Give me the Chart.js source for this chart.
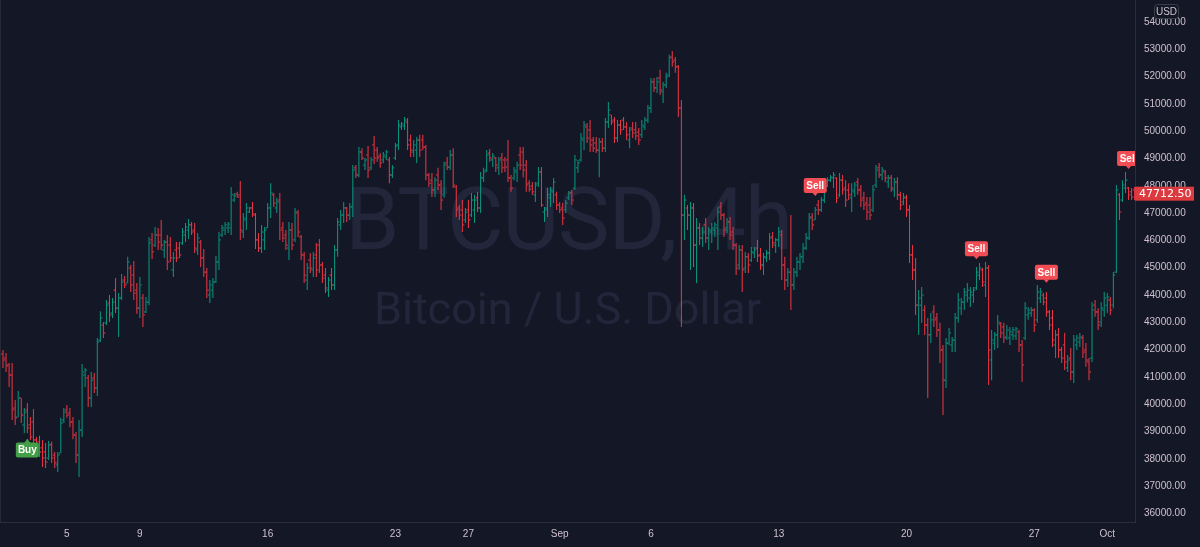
<!DOCTYPE html>
<html><head><meta charset="utf-8">
<script src="https://cdn.jsdelivr.net/npm/chart.js@4.4.1/dist/chart.umd.min.js"></script>
<style>html,body{margin:0;padding:0;background:#141826;overflow:hidden}#wrap{width:1200px;height:547px}</style>
</head><body><div id="wrap"><canvas id="c" width="1200" height="547"></canvas></div>
<script>
// ---- DATA (BTCUSD 4h bars) ----
const openP=[
41840,41690,41440,41070,39860,39530,40230,39240,39790,39240,39350,38690,38620,38400,38250,38030,38510,38140,37770,38210,
39420,39790,39680,39350,38870,38140,39050,41070,40960,40230,40960,40590,42350,42900,42980,43710,43340,44180,43520,43890,
44550,44440,44990,44730,44180,43520,43890,43380,43740,46020,45830,46200,46200,45650,45940,45830,44920,45650,45720,45910,
46200,46380,46570,46380,45650,45940,45360,44840,44000,44180,44480,45210,46200,46380,46460,46460,47480,47700,47670,46310,
46750,47040,47190,46930,46020,45720,46020,46460,47190,47670,47190,47480,46460,46200,45720,
46380,46020,47010,46130,45470,44550,45280,44920,45470,45830,45100,44730,44180,44730,44370,45650,46570,46930,47190,46930,
47230,48660,48400,49240,48760,49130,48660,49500,49310,49090,48950,49060,48950,48400,49020,49500,50160,50190,50340,49680,
49240,49310,49680,49680,49420,48400,48210,47850,48400,48030,47670,48840,48690,49130,47960,47190,47120,46750,47120,46930,
47120,47560,47190,48290,48580,49200,48950,49020,48660,49020,48950,48950,48290,48290,48510,49130,49240,48760,48100,47990,
47670,48100,48510,47040,47120,47560,47780,47670,47300,47190,47120,47560,47740,47920,48660,
48950,49680,50160,50050,49680,49570,49310,49610,49380,50340,50600,50410,49750,50230,50410,50160,49680,50120,50050,49970,
49870,50160,50410,50850,51810,51590,51950,51440,51700,52060,52720,52610,52360,50850,46930,47190,46930,47190,45830,46460,
46090,46570,46090,46310,46380,46460,47230,46930,46460,46680,46310,45830,45100,45650,44990,45400,45280,45540,45720,45470,
45100,45360,45540,46130,45830,46020,46200,45100,44550,44840,44370,44840,45210,45400,45720,46090,46860,46750,47300,47120,
47480,47990,48210,48290,48290,47670,48210,47920,47850,47560,47780,48140,
47850,47560,47370,47300,47120,48030,48660,48400,48510,48140,48290,47850,48140,47670,47410,47560,47120,45470,44920,43630,
43630,43450,42900,42540,43380,43160,42720,41990,40880,42240,42170,42350,43160,43520,43740,44000,43890,44000,44260,44730,
44920,44370,44990,41620,42240,42540,42940,42830,42460,42430,42540,42500,42650,42170,42430,43270,43340,43450,43090,43890,
44000,43890,43380,43160,42170,42540,41990,42170,41330,41690,41180,42170,42280,42430,41990,41550,41690,43630,43380,43010,
43450,43630,43820,43630,44840,47670,47480,47920,47920,47780,47850];
const highP=[
41990,41880,41510,41510,40150,40480,40230,39860,40040,39530,39820,38800,38840,38690,38580,38650,38620,38250,38250,39500,
39860,39970,39860,39530,38980,39420,41470,41330,41070,41180,41140,42430,43410,43010,43820,44000,43890,44620,44070,44770,
44700,45400,45100,45250,44440,44660,44040,43930,46130,46270,46490,46460,46750,46020,46200,46130,45580,45940,45940,46460,
46640,46790,46680,46640,46270,46020,45690,44990,44550,44620,45430,46310,46570,46680,46680,47960,47740,47780,48180,47010,
47370,47230,47410,47010,46270,46570,46490,47370,48100,47740,47560,47740,46680,46380,46680,
46640,47190,47120,46200,45580,45170,45540,45580,45910,46050,45210,44990,44660,44990,45830,46820,47120,47410,47230,47370,
48760,48760,49420,49380,49020,49460,49060,49830,49420,49200,49240,49310,49060,48760,49570,50410,50340,50520,50490,49870,
49680,49790,49870,49870,49500,48470,48470,48320,48660,48210,48880,49060,49310,49380,48030,47300,47480,47190,47480,47740,
47670,47780,48510,48660,49310,49350,49200,49060,49060,49200,49060,49680,48400,48690,48880,49420,49420,48950,48210,48140,
48140,48690,48690,47230,47920,47960,48290,47780,47410,47370,47480,47810,47850,49130,48950,
49940,50380,50300,50410,49790,49790,49750,49750,50490,51070,50600,50520,50410,50410,50520,50340,50160,50340,50340,50120,
50410,50520,50960,51950,51950,51990,52250,51810,52140,52800,52940,52720,52430,51150,47670,47300,47410,47370,46820,46640,
46490,46820,46490,46640,46680,47230,47410,47010,46820,46860,46490,45910,45830,45830,45580,45540,45760,45760,46020,45720,
45540,45650,46270,46310,46090,46490,46380,45400,44990,46930,44990,45400,45540,45910,46270,47010,47010,47230,47480,47590,
47960,48320,48400,48510,48320,48470,48400,48210,48100,48100,48140,48290,
48030,47780,47590,47590,48030,48760,48840,48690,48580,48400,48400,48290,48320,47780,47740,47670,47300,45830,45360,44180,
44290,43630,43160,43340,43630,43340,42980,42170,42430,42790,42460,43340,44070,43890,44260,44440,44290,44290,45030,45170,
44990,45210,45100,42720,42650,43270,43010,42980,42900,42830,42830,42830,42720,42350,43740,43560,43560,43520,44370,44260,
44070,44110,43450,43450,42720,42790,42100,42610,41800,42060,42540,42540,42610,42540,42240,41690,43740,43820,43520,43740,
44110,44070,43930,44840,48030,47740,48210,48510,47960,47920,47960];
const lowP=[
41330,41180,40630,39420,39240,39530,39310,38940,38940,38690,38580,38320,38070,37700,37660,37960,37850,37660,37520,38210,
39310,39500,39160,38720,37850,37330,38800,40630,39900,39900,40410,40300,42280,42430,42900,43010,43160,43340,42460,43820,
44260,44440,44110,43820,43310,43160,42830,43340,43630,45320,45760,45650,45650,45360,44920,45210,44660,45210,45360,45830,
45940,46050,46200,45540,45470,45030,44660,43890,43710,43890,44440,44920,46130,46200,46270,46200,47410,47560,46020,46090,
46380,47010,46860,45690,45580,45540,45650,46460,46820,47230,47010,46020,45940,45650,45280,
45650,45940,46130,45280,44440,44180,44810,44660,44660,44810,44440,44070,43930,44180,44180,45400,46380,46640,46680,46750,
46860,48290,48320,48950,48580,48290,48580,48800,48880,48660,48840,48950,48100,48290,48950,49310,50050,50050,49310,49060,
49060,48840,49060,49310,48210,47960,47590,47590,47850,47120,47560,48580,48580,47920,46860,46750,46310,46640,46460,46860,
46640,47040,47010,48140,48510,48880,48690,48510,48400,48470,48510,48140,47780,48210,48140,48580,48320,47780,47780,47670,
47410,47960,47230,46680,46860,47230,47370,47120,47010,46570,47010,47480,47300,47850,48470,
48880,49310,49570,49240,49240,49200,48320,49240,49240,50120,50230,49570,49610,49870,50050,49680,49380,49750,49680,49500,
49750,50050,50300,50670,51440,51400,51330,51040,51590,51990,52360,52140,50520,42830,46020,46380,44920,45030,44440,45830,
45760,45910,45650,45910,46130,45650,46750,46130,46270,46020,45650,44730,44920,44110,44810,44810,45210,45360,45210,44920,
44730,45210,45280,45720,45540,45760,44550,44180,44290,43450,44180,44660,44920,45170,45650,46020,46380,46750,46930,47040,
47370,47960,48140,47920,47370,47590,47670,47230,47480,47040,47590,47670,
47230,47120,46750,46750,47040,47920,48290,48210,48140,47920,47780,47590,47480,47120,47300,46860,45170,44550,43270,42540,
42980,42540,40230,42240,42830,42460,41510,39600,40590,42170,41910,41910,42980,43270,43450,43740,43560,43710,44180,44550,
44290,43930,40700,40880,41990,42060,42430,42240,42350,42170,42350,42350,41910,40810,42350,43090,43200,42650,42980,43710,
43630,43200,42720,42100,41690,41690,41510,41250,41180,40880,40780,41990,42100,41690,41370,40880,41550,43200,42720,42830,
43200,43340,43270,43520,44810,46750,47410,47740,47480,47480,47480];
const closeP=[
41620,41400,41070,39790,39500,40230,39600,39710,39130,38800,38690,38430,38250,38030,37880,38510,38030,37850,38140,39310,
39710,39600,39350,38870,38140,39050,41180,41250,40230,40880,40590,42280,43160,42610,43630,43270,43740,43520,43890,44480,
44370,45210,44370,44070,43520,44370,43270,43740,45910,45580,46200,45940,45830,45940,45210,45360,45360,45360,45470,46310,
46490,46570,46310,45720,46090,45360,44840,44180,44370,44480,45210,46020,46460,46570,46600,47670,47630,47590,46380,46820,
47190,47190,46970,46020,45720,46310,46380,47190,47740,47370,47410,46380,46090,45830,46380,
45830,47040,46310,45470,44730,44990,44990,45360,44920,45100,44620,44260,44550,44370,45650,46680,46930,47190,46930,47230,
48580,48400,49240,49020,48950,48580,48950,49020,49020,48840,49130,49240,48400,48660,49460,50230,50270,50410,49500,49310,
49500,49680,49310,49420,48400,48100,47850,48210,48030,47480,48760,48690,49130,48030,47120,46930,46570,47040,46750,47480,
47480,47190,48290,48510,49130,49020,49090,48760,48950,48660,48690,48290,47920,48580,48760,48760,48580,48030,47880,47780,
48030,48510,47300,47190,47670,47850,48140,47300,47120,46820,47370,47740,47480,48950,48840,
49750,50230,49750,49500,49380,49310,49610,49380,50340,50780,50340,49750,50230,50050,50160,49870,50050,49940,49830,49680,
50230,50410,50850,51810,51590,51810,51510,51700,51990,52690,52540,52360,50850,46930,47480,46930,47190,45830,46460,46090,
46310,46090,46380,46460,46570,47040,46930,46380,46680,46200,45830,44990,45650,44920,45400,45100,45580,45650,45430,45100,
45400,45540,46090,45910,46020,46310,45100,44550,44840,44370,44840,45210,45400,45720,46090,46820,46570,47120,47120,47480,
47850,48210,48320,48400,47560,48210,47850,47480,47670,47850,48030,47850,
47480,47300,47040,46930,47850,48580,48400,48580,48290,48290,47920,48140,47670,47300,47590,47120,45470,44920,43630,43890,
44000,42900,42540,43090,43090,42720,41990,40880,42240,42610,42350,43160,43820,43740,44110,44180,44110,44180,44840,44990,
44480,44990,41990,42350,42540,43010,42610,42430,42720,42650,42720,42760,42170,41440,43520,43450,43450,42900,44110,44110,
43740,43380,42900,42350,42540,41990,41690,41550,41620,41180,42350,42430,42460,41910,41620,41180,43450,43380,42900,43520,
43890,43930,43450,44730,47850,47040,48030,48210,47670,47590,47712.5];

const xTickIndex=[21,45,87,129,153,183,213,255,297,339,363];
const xTickLabels=["5","9","16","23","27","Sep","6","13","20","27","Oct"];
const yTickValues=[36000,37000,38000,39000,40000,41000,42000,43000,44000,45000,46000,47000,48000,49000,50000,51000,52000,53000,54000];
const buySignalIndex=[8];
const buySignalPrice=[38740];
const sellSignalIndex=[267,320,343,370];
const sellSignalPrice=[47630,45310,44450,48620];
const lastPrice=47712.5;
const titleText="BTCUSD, 4h";
const subtitleText="Bitcoin / U.S. Dollar";
const currencyText="USD";

// ---- STYLE ----
const BG='#141826', UP='#089981', DOWN='#f23645', TXT='#cfc0cf', AXIS_LINE='#2a2e3a';
const FONT='"Liberation Sans", Arial, sans-serif';
const X_MIN=-0.986, X_MAX=372.12, Y_MIN=35684, Y_MAX=54810;

const barColors=closeP.map((c,i)=>c>=openP[i]?UP:DOWN);
const wickData=highP.map((h,i)=>({x:i,y:[lowP[i],h]}));

const bgPlugin={id:'bg',beforeDraw(chart){const c=chart.ctx;c.save();c.fillStyle=BG;c.fillRect(0,0,chart.width,chart.height);c.restore();}};
const watermark={id:'wm',beforeDatasetsDraw(chart){
  const c=chart.ctx,a=chart.chartArea,cx=(a.left+a.right)/2;
  c.save();c.fillStyle='#21263a';c.textAlign='center';c.textBaseline='alphabetic';
  c.font='87px Roboto';try{c.letterSpacing='-1px';}catch(e){}
  c.fillText(titleText,cx+1,248.5);
  try{c.letterSpacing='0px';}catch(e){}
  c.font='45px Roboto';c.fillText(subtitleText,cx,323.5);
  c.fillStyle='#262a36';c.fillRect(0,0,1,a.bottom);
  c.restore();}};
function roundBox(c,x,y,w,h,r){c.beginPath();c.moveTo(x+r,y);c.lineTo(x+w-r,y);c.quadraticCurveTo(x+w,y,x+w,y+r);c.lineTo(x+w,y+h-r);c.quadraticCurveTo(x+w,y+h,x+w-r,y+h);c.lineTo(x+r,y+h);c.quadraticCurveTo(x,y+h,x,y+h-r);c.lineTo(x,y+r);c.quadraticCurveTo(x,y,x+r,y);c.closePath();}
const ohlcTicks={id:'ohlc',afterDatasetsDraw(chart){
  const c=chart.ctx,a=chart.chartArea,xs=chart.scales.x,ys=chart.scales.y;
  c.save();c.beginPath();c.rect(a.left,a.top,a.right-a.left,a.bottom-a.top);c.clip();
  for(let i=0;i<closeP.length;i++){
    const px=xs.getPixelForValue(i);c.fillStyle=barColors[i];
    c.fillRect(px-2,ys.getPixelForValue(openP[i])-0.5,1.5,1);
    c.fillRect(px+0.5,ys.getPixelForValue(closeP[i])-0.5,1.5,1);
  }
  c.font='bold 10px '+FONT;c.textAlign='center';c.textBaseline='middle';
  sellSignalIndex.forEach((idx,k)=>{
    const x=xs.getPixelForValue(idx),tip=ys.getPixelForValue(sellSignalPrice[k]);
    const w=23,h=15,top=tip-3-h;
    c.fillStyle='#f24d55';roundBox(c,x-w/2,top,w,h,2);c.fill();
    c.beginPath();c.moveTo(x-3,tip-3.5);c.lineTo(x+3,tip-3.5);c.lineTo(x,tip);c.closePath();c.fill();
    c.fillStyle='#ffffff';c.fillText('Sell',x,top+h/2+0.5);
  });
  buySignalIndex.forEach((idx,k)=>{
    const x=xs.getPixelForValue(idx),tip=ys.getPixelForValue(buySignalPrice[k]);
    const w=23,h=15,top=tip+4;
    c.fillStyle='#43a047';roundBox(c,x-w/2,top,w,h,2);c.fill();
    c.beginPath();c.moveTo(x-3,tip+4.5);c.lineTo(x+3,tip+4.5);c.lineTo(x,tip);c.closePath();c.fill();
    c.fillStyle='#ffffff';c.fillText('Buy',x,top+h/2+0.5);
  });
  c.restore();}};
const overlays={id:'ov',afterDraw(chart){
  const c=chart.ctx,a=chart.chartArea,ys=chart.scales.y;
  c.save();
  const yl=ys.getPixelForValue(lastPrice);
  c.fillStyle='#dc3a3f';c.fillRect(a.right,yl-7,59,14);
  c.fillStyle='#ffffff';c.font='11px "DejaVu Sans"';c.textAlign='left';c.textBaseline='middle';
  c.fillText(lastPrice.toFixed(2),a.right+4,yl+0.5);
  c.fillStyle=BG;c.strokeStyle='#3a3e4b';c.lineWidth=1;
  roundBox(c,1154.5,4.5,24,14,3);c.fill();c.stroke();
  c.fillStyle=TXT;c.font='10px '+FONT;c.textAlign='center';c.fillText(currencyText,1166.5,12);
  c.restore();}};

new Chart(document.getElementById('c'),{
  type:'bar',
  data:{datasets:[{data:wickData,backgroundColor:barColors,barThickness:1,inflateAmount:0,borderWidth:0,grouped:false}]},
  options:{
    responsive:false,animation:false,devicePixelRatio:1,
    layout:{padding:0},
    plugins:{legend:{display:false},tooltip:{enabled:false}},
    scales:{
      x:{type:'linear',min:X_MIN,max:X_MAX,offset:false,
        grid:{display:false,drawTicks:false},border:{display:true,color:AXIS_LINE},
        afterBuildTicks(s){s.ticks=xTickIndex.map(v=>({value:v}));},
        ticks:{color:TXT,font:{size:10,family:FONT},padding:6,autoSkip:false,maxRotation:0,minRotation:0,callback:(v,i)=>xTickLabels[i]},
        afterFit(s){s.height=25;s.paddingLeft=0;s.paddingRight=0;}},
      y:{position:'right',min:Y_MIN,max:Y_MAX,
        grid:{display:false,drawTicks:false},border:{display:true,color:AXIS_LINE},
        afterBuildTicks(s){s.ticks=yTickValues.map(v=>({value:v}));},
        ticks:{color:TXT,font:{size:10,family:FONT},padding:9,autoSkip:false,callback:v=>v.toFixed(2)},
        afterFit(s){s.width=65;s.paddingTop=0;s.paddingBottom=0;}}
    }
  },
  plugins:[bgPlugin,watermark,ohlcTicks,overlays]
});
</script></body></html>
